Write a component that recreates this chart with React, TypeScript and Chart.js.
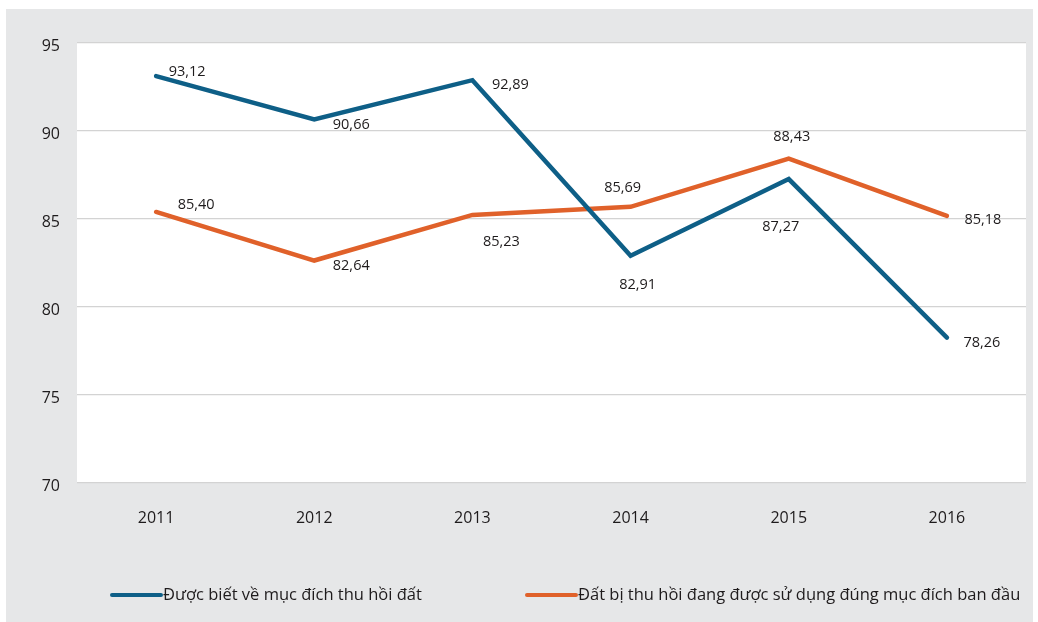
import React, { useEffect, useRef } from "react";
import { Chart, registerables } from "chart.js";

Chart.register(...registerables);

const years = ["2011", "2012", "2013", "2014", "2015", "2016"];
const knownPurpose = [93.12, 90.66, 92.89, 82.91, 87.27, 78.26];
const usedCorrectly = [85.4, 82.64, 85.23, 85.69, 88.43, 85.18];
const seriesNames = [
  "Được biết về mục đích thu hồi đất",
  "Đất bị thu hồi đang được sử dụng đúng mục đích ban đầu",
];
const yMin = 70;
const yMax = 95;
const yStep = 5;

const BLUE = "#0e5f87";
const ORANGE = "#e0612a";
const TEXT = "#1e1b1c";
const FONT = "'Open Sans', sans-serif";

// label placement offsets (px, relative to point) per series
const labelOffsets: number[][][] = [
  [[31, -4], [37, 5], [38, 5], [7, 29], [-8, 48], [35, 5]],
  [[40, -7], [37, 5], [29, 27], [-8, -19], [3, -22], [36, 4]],
];

const plotBg = {
  id: "plotBg",
  beforeDraw(chart: any) {
    const { ctx, chartArea: a } = chart;
    ctx.save();
    ctx.fillStyle = "#ffffff";
    ctx.fillRect(a.left, a.top, a.right - a.left, a.bottom - a.top);
    ctx.restore();
  },
};

const valueLabels = {
  id: "valueLabels",
  afterDatasetsDraw(chart: any) {
    const { ctx } = chart;
    ctx.save();
    ctx.font = `14.5px ${FONT}`;
    ctx.fillStyle = TEXT;
    ctx.textAlign = "center";
    ctx.textBaseline = "middle";
    chart.data.datasets.forEach((ds: any, di: number) => {
      const meta = chart.getDatasetMeta(di);
      meta.data.forEach((pt: any, i: number) => {
        const v = ds.data[i] as number;
        const [dx, dy] = labelOffsets[di][i];
        ctx.fillText(v.toFixed(2).replace(".", ","), pt.x + dx, pt.y + dy);
      });
    });
    ctx.restore();
  },
};

const customLegend = {
  id: "customLegend",
  afterDraw(chart: any) {
    const { ctx, chartArea: a } = chart;
    const y = a.bottom + 112;
    const starts = [a.left + 35, a.left + 450];
    ctx.save();
    ctx.font = `16.5px ${FONT}`;
    ctx.textBaseline = "middle";
    ctx.textAlign = "left";
    chart.data.datasets.forEach((ds: any, di: number) => {
      const x = starts[di];
      ctx.strokeStyle = ds.borderColor;
      ctx.lineWidth = 4;
      ctx.lineCap = "round";
      ctx.beginPath();
      ctx.moveTo(x, y);
      ctx.lineTo(x + 49, y);
      ctx.stroke();
      ctx.fillStyle = TEXT;
      ctx.fillText(ds.label, x + 51, y);
    });
    ctx.restore();
  },
};

export default function App() {
  const ref = useRef<HTMLCanvasElement | null>(null);
  useEffect(() => {
    if (!ref.current) return;
    const chart = new Chart(ref.current, {
      type: "line",
      data: {
        labels: years,
        datasets: [
          {
            label: seriesNames[0],
            data: knownPurpose,
            borderColor: BLUE,
            backgroundColor: BLUE,
            borderWidth: 4.5,
            pointRadius: 0,
            tension: 0,
            borderCapStyle: "round",
            borderJoinStyle: "miter",
          },
          {
            label: seriesNames[1],
            data: usedCorrectly,
            borderColor: ORANGE,
            backgroundColor: ORANGE,
            borderWidth: 4.5,
            pointRadius: 0,
            tension: 0,
            borderCapStyle: "round",
            borderJoinStyle: "miter",
          },
        ],
      },
      options: {
        animation: false,
        responsive: false,
        maintainAspectRatio: false,
        layout: { padding: { top: 34, right: 7, left: 0, bottom: 0 } },
        plugins: {
          legend: { display: false },
          tooltip: { enabled: false },
        },
        scales: {
          x: {
            offset: true,
            grid: { display: false, drawTicks: false },
            border: { display: false },
            ticks: {
              color: TEXT,
              font: { family: FONT, size: 16 },
              padding: 26,
              maxRotation: 0,
            },
            afterFit(scale: any) {
              scale.height = 139;
            },
          },
          y: {
            min: yMin,
            max: yMax,
            grid: { color: "#d3d3d3", lineWidth: 1.3, drawTicks: false },
            border: { display: false },
            ticks: {
              stepSize: yStep,
              color: TEXT,
              font: { family: FONT, size: 16 },
              padding: 17,
              labelOffset: 3,
            },
            afterFit(scale: any) {
              scale.width = 71;
            },
          },
        },
      },
      plugins: [plotBg, valueLabels, customLegend],
    });
    return () => chart.destroy();
  }, []);

  return (
    <div
      style={{
        position: "absolute",
        left: 6,
        top: 9,
        width: 1027,
        height: 613,
        background: "#e6e7e8",
      }}
    >
      <canvas ref={ref} width={1027} height={613} style={{ display: "block" }} />
    </div>
  );
}
